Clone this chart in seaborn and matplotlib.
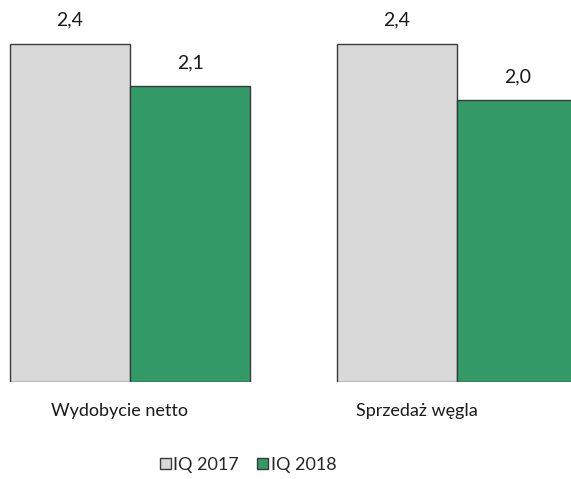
import pandas as pd
import matplotlib.pyplot as plt
import matplotlib.transforms as mtransforms
from matplotlib.patches import Patch
import seaborn as sns

# Data
categories = ["Wydobycie netto", "Sprzedaż węgla"]
series = ["IQ 2017", "IQ 2018"]
values_2017 = [2.4, 2.4]
values_2018 = [2.1, 2.0]
colors = ["#d9d9d9", "#339966"]

df = pd.DataFrame({
    "Kategoria": categories * 2,
    "Okres": [series[0]] * 2 + [series[1]] * 2,
    "Wartosc": values_2017 + values_2018,
})

sns.set_style("white")
plt.rcParams["font.family"] = ["Lato", "DejaVu Sans"]

fig = plt.figure(figsize=(5.71, 4.79), dpi=100)
ax = fig.add_axes([0, 97 / 479, 1, 382 / 479])

sns.barplot(data=df, x="Kategoria", y="Wartosc", hue="Okres",
            palette=colors, saturation=1, width=0.737, edgecolor="#3a3a3a",
            linewidth=1, ax=ax, legend=False)

ax.set_xlim(-130 / 327, 441 / 327)
ax.set_ylim(0, 2.4 * 382 / 338)
sns.despine(ax=ax, left=True, bottom=True)
ax.set_yticks([])
ax.set_xlabel("")
ax.set_ylabel("")
ax.tick_params(axis="x", length=0, pad=15, labelsize=13, colors="#1a1a1a")

# small shifts so category labels sit like in the original
shifts = [-10.5, -40]
for lab, dx in zip(ax.get_xticklabels(), shifts):
    lab.set_transform(lab.get_transform() + mtransforms.ScaledTranslation(dx / 100, 0, fig.dpi_scale_trans))

for cont in ax.containers:
    ax.bar_label(cont, labels=[f"{v:.1f}".replace(".", ",") for v in cont.datavalues],
                 padding=11, fontsize=14, color="#1a1a1a")

handles = [Patch(facecolor=c, edgecolor="#3a3a3a", linewidth=1) for c in colors]
fig.legend(handles, series, loc="center", bbox_to_anchor=(248 / 571, 1 - 465 / 479),
           ncol=2, frameon=False, handlelength=0.6, handleheight=0.6,
           handletextpad=0.15, columnspacing=1.0, fontsize=13)

fig.savefig("out.png", dpi=100)
